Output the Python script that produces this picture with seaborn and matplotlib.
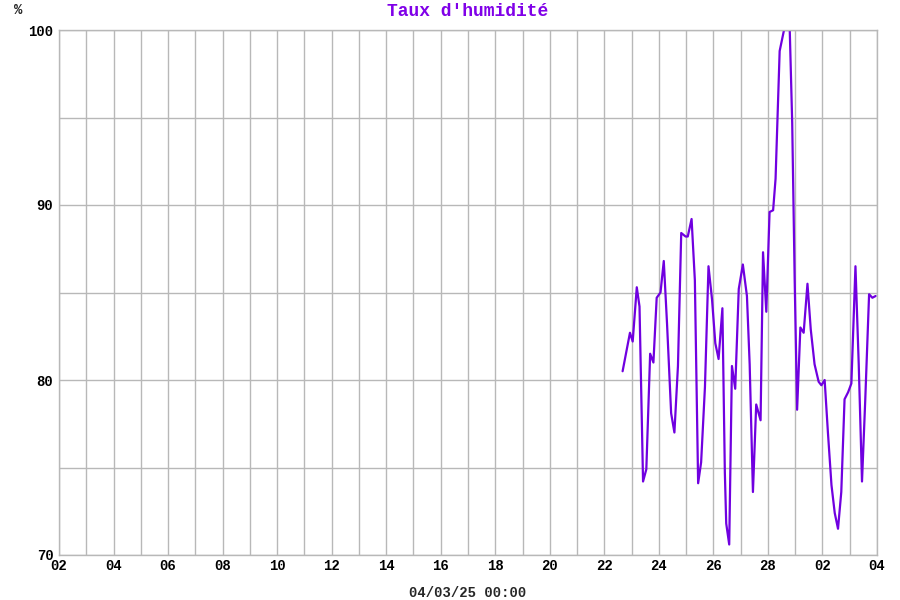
import matplotlib
matplotlib.use("Agg")
import matplotlib.pyplot as plt
import matplotlib.dates as mdates
import pandas as pd
import seaborn as sns

# days elapsed since 2025-02-02 00:00
day_offsets = [
    20.67, 20.94, 21.04, 21.19, 21.29, 21.42, 21.54, 21.68, 21.80, 21.92,
    22.06, 22.18, 22.30, 22.45, 22.57, 22.70, 22.82, 22.98, 23.06, 23.20,
    23.32, 23.44, 23.55, 23.69, 23.82, 23.95, 24.07, 24.19, 24.33, 24.42,
    24.47, 24.58, 24.68, 24.80, 24.93, 25.08, 25.23, 25.33, 25.45, 25.57,
    25.73, 25.82, 25.94, 26.06, 26.19, 26.28, 26.43, 26.59, 26.80, 26.89,
    26.98, 27.07, 27.19, 27.31, 27.45, 27.57, 27.71, 27.86, 27.96, 28.08,
    28.20, 28.33, 28.45, 28.57, 28.69, 28.81, 28.94, 29.06, 29.21, 29.33,
    29.45, 29.57, 29.71, 29.83, 29.95,
]
humidity = [
    80.5, 82.7, 82.2, 85.3, 84.2, 74.2, 74.9, 81.5, 81.0, 84.7,
    85.0, 86.8, 83.2, 78.1, 77.0, 80.8, 88.4, 88.2, 88.2, 89.2,
    85.7, 74.1, 75.3, 79.6, 86.5, 84.6, 82.1, 81.2, 84.1, 74.7,
    71.8, 70.6, 80.8, 79.5, 85.2, 86.6, 84.8, 80.9, 73.6, 78.6,
    77.7, 87.3, 83.9, 89.6, 89.7, 91.5, 98.8, 100.0, 100.0, 94.7,
    85.8, 78.3, 83.0, 82.7, 85.5, 82.9, 80.9, 79.9, 79.7, 80.0,
    77.0, 74.0, 72.4, 71.5, 73.6, 78.9, 79.3, 79.8, 86.5, 80.9,
    74.2, 78.9, 84.9, 84.7, 84.8,
]
start = pd.Timestamp("2025-02-02")
end = pd.Timestamp("2025-03-04")
title = "Taux d'humidité"
unit_label = "%"
x_label = "04/03/25 00:00"

df = pd.DataFrame({
    "time": start + pd.to_timedelta(day_offsets, unit="D"),
    "humidity": humidity,
})

sns.set_style("white")
plt.rcParams["font.family"] = ["Liberation Mono", "DejaVu Sans Mono"]
plt.rcParams["font.weight"] = "bold"

fig = plt.figure(figsize=(9, 6), dpi=100)
ax = fig.add_axes([59 / 900, 45 / 600, 818 / 900, 525 / 600])

sns.lineplot(data=df, x="time", y="humidity", ax=ax, color="#7000e0", linewidth=1.6)

ax.set_xlim(start, end)
ax.set_ylim(70, 100)
ax.set_xticks(pd.date_range(start, end, freq="2D"))
ax.set_xticks(pd.date_range(start, end, freq="1D"), minor=True)
ax.xaxis.set_major_formatter(mdates.DateFormatter("%d"))
ax.set_yticks([70, 80, 90, 100])
ax.set_yticks([75, 85, 95], minor=True)

ax.grid(True, which="both", color="#b8b8b8", linewidth=1)
ax.set_axisbelow(True)
for spine in ax.spines.values():
    spine.set_color("#b8b8b8")
    spine.set_linewidth(1)
ax.tick_params(which="both", length=0, labelsize=10, colors="black")
ax.tick_params(axis="x", pad=3)
ax.tick_params(axis="y", pad=4)

ax.set_xlabel(x_label, fontsize=10, fontweight="bold", labelpad=9)
ax.set_ylabel("")
ax.set_title(title, fontsize=13, fontweight="bold", color="#8000e8", pad=10)
fig.text(14 / 900, 1 - 10 / 600, unit_label, fontsize=10, fontweight="bold", va="center")

fig.savefig("out.png", dpi=100)
